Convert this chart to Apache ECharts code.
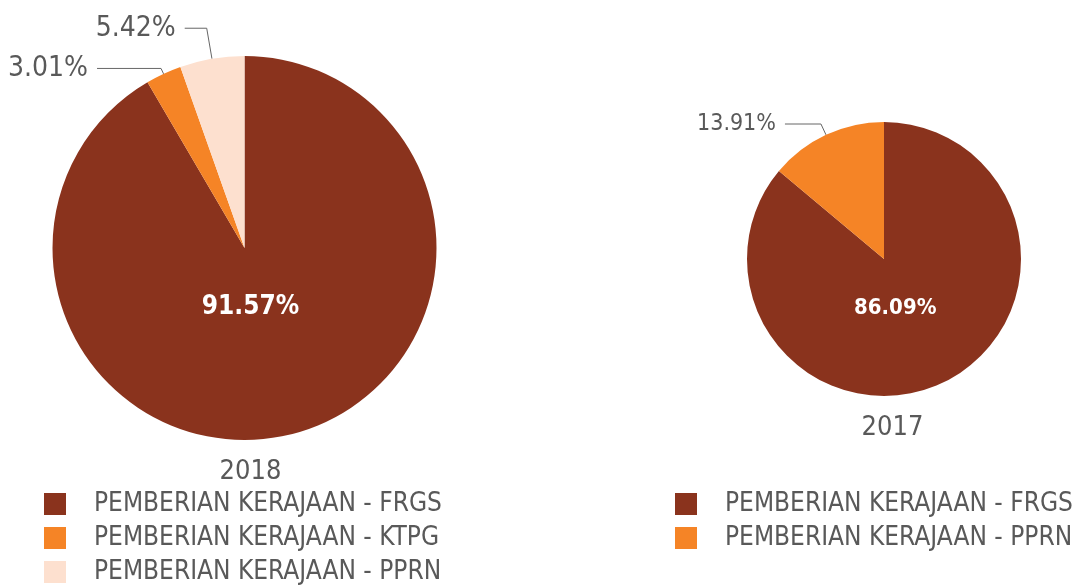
<!DOCTYPE html>
<html>
<head>
<meta charset="utf-8">
<script src="https://cdn.jsdelivr.net/npm/echarts@6/dist/echarts.min.js"></script>
<style>
html,body{margin:0;padding:0;background:#fff;}
#main{width:1087px;height:586px;}
</style>
</head>
<body>
<div id="main"></div>
<script>
// 数据
var names2018 = ['PEMBERIAN KERAJAAN - FRGS', 'PEMBERIAN KERAJAAN - KTPG', 'PEMBERIAN KERAJAAN - PPRN'];
var values2018 = [91.57, 3.01, 5.42];
var colors2018 = ['#8a331d', '#f58426', '#fde0cf'];

var names2017 = ['PEMBERIAN KERAJAAN - FRGS', 'PEMBERIAN KERAJAAN - PPRN'];
var values2017 = [86.09, 13.91];
var colors2017 = ['#8a331d', '#f58426'];

var years = ['2018', '2017'];

var FONT = "'DejaVu Sans Condensed', 'DejaVu Sans', sans-serif";
var GREY = '#595959';

// 外部标签线长度 [length, length2]
var lines2018 = [null, [6, 64], [31, 22]];
var lines2017 = [null, [12, 36]];

function buildData(names, values, colors, lines, inSize, outSize) {
	var arr = [];
	for (var i = 0; i < names.length; i++) {
		var item = {
			name: names[i],
			value: values[i],
			itemStyle: { color: colors[i] }
		};
		if (i == 0) {
			item.label = { position: 'inside', color: '#fff', fontWeight: 'bold', fontSize: inSize };
			item.labelLine = { show: false };
		} else {
			item.label = { position: 'outside', color: GREY, fontSize: outSize, distanceToLabelLine: 9 };
			item.labelLine = { show: true, length: lines[i][0], length2: lines[i][1], lineStyle: { color: '#666', width: 1 } };
		}
		arr.push(item);
	}
	return arr;
}

function legendData(names, colors) {
	var arr = [];
	for (var i = 0; i < names.length; i++) {
		arr.push({ name: names[i], itemStyle: { color: colors[i] } });
	}
	return arr;
}

var chart = echarts.init(document.getElementById('main'));

var legendText = { fontFamily: FONT, fontSize: 26, lineHeight: 22, color: GREY, padding: [0, 0, 0, 23] };

var option = {
	backgroundColor: '#fff',
	animation: false,
	textStyle: { fontFamily: FONT },
	title: [
		{ text: years[0], left: 245.5, top: 453, textAlign: 'center',
		  textStyle: { fontFamily: FONT, fontSize: 27, fontWeight: 'normal', color: GREY } },
		{ text: years[1], left: 887.5, top: 409, textAlign: 'center',
		  textStyle: { fontFamily: FONT, fontSize: 27, fontWeight: 'normal', color: GREY } }
	],
	legend: [
		{
			orient: 'vertical', left: 44, top: 491, height: 100, padding: 0,
			itemWidth: 22, itemHeight: 22, itemGap: 8,
			icon: 'rect', selectedMode: false,
			data: legendData(names2018, colors2018),
			textStyle: legendText
		},
		{
			orient: 'vertical', left: 675, top: 491, height: 100, padding: 0,
			itemWidth: 22, itemHeight: 22, itemGap: 8,
			icon: 'rect', selectedMode: false,
			data: legendData(names2017, colors2017),
			textStyle: legendText
		}
	],
	series: [
		{
			type: 'pie',
			center: [244.5, 248],
			radius: [0, 192],
			startAngle: 90,
			clockwise: true,
			avoidLabelOverlap: false,
			label: {
				fontFamily: FONT,
				formatter: function (p) { return p.value.toFixed(2) + '%'; }
			},
			labelLayout: function (p) {
				if (p.dataIndex == 0) return { dx: -20, dy: -36 };
				return {};
			},
			data: buildData(names2018, values2018, colors2018, lines2018, 26, 28)
		},
		{
			type: 'pie',
			center: [884, 259],
			radius: [0, 137],
			startAngle: 90,
			clockwise: true,
			avoidLabelOverlap: false,
			label: {
				fontFamily: FONT,
				formatter: function (p) { return p.value.toFixed(2) + '%'; }
			},
			labelLayout: function (p) {
				if (p.dataIndex == 0) return { dx: -19, dy: -15 };
				return {};
			},
			data: buildData(names2017, values2017, colors2017, lines2017, 22, 23)
		}
	]
};

chart.setOption(option);
</script>
</body>
</html>
